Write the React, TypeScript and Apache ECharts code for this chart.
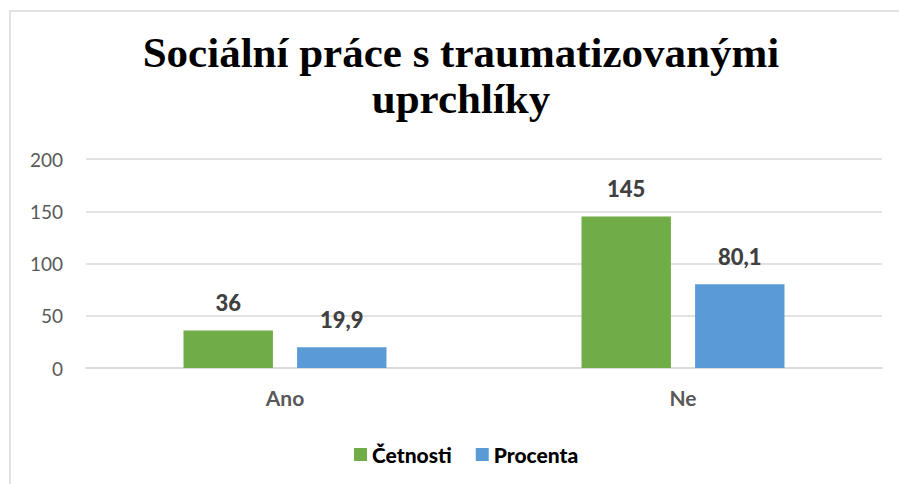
import React, { useEffect, useRef } from "react";
import * as echarts from "echarts";

const titleLines = ["Sociální práce s traumatizovanými", "uprchlíky"];
const categories = ["Ano", "Ne"];
const seriesNames = ["Četnosti", "Procenta"];
const cetnosti = [36, 145];
const procenta = [19.9, 80.1];
const yTicks = { min: 0, max: 200, interval: 50 };

const SANS = "Lato, 'Open Sans', sans-serif";

export default function App() {
  const ref = useRef<HTMLDivElement>(null);
  useEffect(() => {
    if (!ref.current) return;
    const chart = echarts.init(ref.current, undefined, { renderer: "svg" });
    const label = {
      show: true,
      position: "top" as const,
      distance: 17,
      fontFamily: SANS,
      fontWeight: 900 as any,
      fontSize: 22,
      color: "#404040",
      formatter: (p: any) => String(p.value).replace(".", ","),
    };
    chart.setOption({
      animation: false,
      backgroundColor: "#ffffff",
      graphic: [
        {
          type: "rect",
          shape: { x: 10, y: 11, width: 900, height: 500 },
          style: { fill: "none", stroke: "#D9D9D9", lineWidth: 1.5 },
          silent: true,
        },
        {
          type: "text",
          x: 461,
          y: 29,
          style: {
            text: titleLines.join("\n"),
            font: "bold 43px 'Liberation Serif', 'Times New Roman', serif",
            lineHeight: 46,
            fill: "#000000",
            align: "center",
            verticalAlign: "top",
          },
        },
      ],
      legend: {
        left: 349,
        top: 439,
        itemWidth: 13,
        itemHeight: 13,
        itemGap: 24,
        icon: "rect",
        textStyle: {
          fontFamily: SANS,
          fontWeight: 900,
          fontSize: 21,
          color: "#000000",
          padding: [0, 0, 0, 0],
        },
        data: seriesNames,
      },
      grid: { left: 86, right: 17, top: 159, bottom: 116 },
      xAxis: {
        type: "category",
        data: categories,
        axisLine: { lineStyle: { color: "#D9D9D9", width: 1.5 } },
        axisTick: { show: false },
        axisLabel: {
          margin: 19,
          fontFamily: SANS,
          fontWeight: "bold",
          fontSize: 21,
          color: "#595959",
        },
      },
      yAxis: {
        type: "value",
        min: yTicks.min,
        max: yTicks.max,
        interval: yTicks.interval,
        axisLine: { show: false },
        axisTick: { show: false },
        splitLine: { lineStyle: { color: "#D9D9D9", width: 1.5 } },
        axisLabel: {
          margin: 23,
          fontFamily: SANS,
          fontSize: 19,
          color: "#595959",
        },
      },
      series: [
        {
          name: seriesNames[0],
          type: "bar",
          data: cetnosti,
          itemStyle: { color: "#70AD47" },
          barGap: "27%",
          barCategoryGap: "49%",
          label,
        },
        {
          name: seriesNames[1],
          type: "bar",
          data: procenta,
          itemStyle: { color: "#5B9BD5" },
          label,
        },
      ],
    });
    return () => chart.dispose();
  }, []);
  return (
    <div
      ref={ref}
      style={{ position: "fixed", left: 0, top: 0, width: 899, height: 484 }}
    />
  );
}
